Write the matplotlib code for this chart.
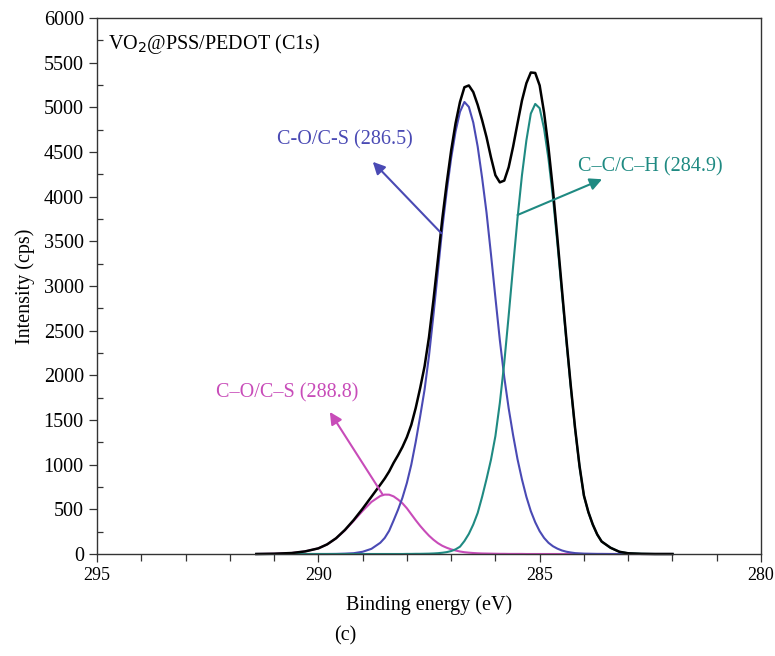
import matplotlib.pyplot as plt

# binding energy grid (eV) shared by all curves
energy = [291.4, 291.0, 290.6, 290.3, 290.0, 289.8, 289.6, 289.4, 289.2, 289.0,
          288.8, 288.6, 288.5, 288.4, 288.3, 288.2, 288.1, 288.0, 287.9, 287.8,
          287.7, 287.6, 287.5, 287.4, 287.3, 287.2, 287.1, 287.0, 286.9, 286.8,
          286.7, 286.6, 286.5, 286.4, 286.3, 286.2, 286.1, 286.0, 285.9, 285.8,
          285.7, 285.6, 285.5, 285.4, 285.3, 285.2, 285.1, 285.0, 284.9, 284.8,
          284.7, 284.6, 284.5, 284.4, 284.3, 284.2, 284.1, 284.0, 283.9, 283.8,
          283.7, 283.6, 283.4, 283.2, 283.0, 282.7, 282.4, 282.0]

# C-O/C-S (288.8) component
pink = [0, 3, 11, 29, 63, 108, 175, 265, 372, 482,
        583, 650, 665, 664, 645, 610, 568, 512, 445, 378,
        315, 258, 205, 160, 122, 92, 70, 52, 39, 28,
        20, 15, 11, 8, 6, 5, 4, 3, 2, 2,
        1, 1, 1, 1, 0, 0, 0, 0, 0, 0,
        0, 0, 0, 0, 0, 0, 0, 0, 0, 0,
        0, 0, 0, 0, 0, 0, 0, 0]

# C-O/C-S (286.5) component
blue = [0, 0, 0, 0, 0, 0, 1, 4, 9, 25,
        58, 126, 180, 260, 375, 495, 630, 795, 1000, 1255,
        1540, 1840, 2220, 2675, 3160, 3645, 4060, 4430, 4730, 4950,
        5060, 5005, 4830, 4560, 4210, 3820, 3355, 2870, 2395, 1980,
        1630, 1330, 1060, 835, 640, 480, 355, 255, 180, 125,
        87, 60, 40, 26, 17, 10, 7, 4, 3, 2,
        1, 1, 0, 0, 0, 0, 0, 0]

# C-C/C-H (284.9) component
teal = [0, 0, 0, 0, 0, 0, 0, 0, 0, 0,
        0, 0, 0, 0, 0, 0, 0, 1, 1, 2,
        2, 3, 4, 6, 9, 14, 21, 33, 52, 82,
        145, 225, 330, 460, 640, 840, 1055, 1320, 1690, 2140,
        2670, 3220, 3760, 4240, 4630, 4930, 5038, 4990, 4760, 4420,
        3990, 3480, 2940, 2400, 1880, 1400, 980, 650, 467, 328,
        218, 139, 70, 25, 8, 2, 0, 0]

# measured envelope
envelope = [0, 3, 11, 29, 63, 108, 176, 269, 381, 507,
            641, 776, 845, 924, 1020, 1105, 1198, 1308, 1446, 1635,
            1857, 2101, 2429, 2841, 3291, 3751, 4151, 4515, 4821, 5060,
            5225, 5245, 5171, 5028, 4856, 4665, 4440, 4240, 4160, 4180,
            4330, 4560, 4821, 5076, 5270, 5390, 5385, 5245, 4940, 4545,
            4077, 3540, 2980, 2426, 1897, 1410, 987, 654, 470, 330,
            219, 140, 70, 25, 8, 2, 0, 0]

c_pink = '#c84cb9'
c_blue = '#4a4ab4'
c_teal = '#1f8a82'

plt.rcParams['font.family'] = ['Liberation Serif', 'DejaVu Serif']
fs = 14.5

fig = plt.figure(figsize=(7.75, 6.56), dpi=100)
ax = fig.add_axes([97/775, 1 - 554/656, 664/775, 536/656])

line_kw = dict(lw=1.5, clip_on=False, solid_joinstyle='round')
ax.plot(energy, pink, color=c_pink, **line_kw)
ax.plot(energy, blue, color=c_blue, **line_kw)
ax.plot(energy, teal, color=c_teal, **line_kw)
ax.plot(energy, envelope, color='black', lw=1.8, clip_on=False, solid_joinstyle='round')

ax.set_xlim(295, 280)
ax.set_ylim(0, 6000)
ax.set_xticks([295, 290, 285, 280])
ax.set_xticks(range(281, 295), minor=True)
ax.set_yticks(range(0, 6001, 500))
ax.set_yticks(range(250, 6000, 500), minor=True)
ax.tick_params(axis='both', which='major', direction='out',
               length=6, width=0.9, color='#333333')
ax.tick_params(axis='y', which='major', labelsize=14.5)
ax.tick_params(axis='x', which='major', labelsize=13)
ax.tick_params(axis='y', which='minor', direction='in', length=4, width=0.9,
               color='#333333')
ax.tick_params(axis='x', which='minor', direction='out', length=5, width=0.9,
               color='#333333')
for s in ax.spines.values():
    s.set_color('#333333')
    s.set_linewidth(1.0)

ax.set_xlabel('Binding energy (eV)', fontsize=fs, labelpad=8)
ax.set_ylabel('Intensity (cps)', fontsize=fs, labelpad=6)

ax.text(0.0165, 0.951, r'VO$_2$@PSS/PEDOT (C1s)', transform=ax.transAxes,
        fontsize=fs, va='center', ha='left')

arrow_kw = dict(arrowstyle='-|>', lw=1.5, mutation_scale=18, shrinkA=0, shrinkB=0)

ax.text(289.41, 4640, 'C-O/C-S (286.5)', color=c_blue, fontsize=fs,
        ha='center', va='center')
ax.annotate('', xy=(288.77, 4390), xytext=(287.22, 3590),
            arrowprops=dict(color=c_blue, **arrow_kw))

ax.text(282.51, 4336, 'C–C/C–H (284.9)', color=c_teal, fontsize=fs,
        ha='center', va='center')
ax.annotate('', xy=(283.59, 4195), xytext=(285.50, 3795),
            arrowprops=dict(color=c_teal, **arrow_kw))

ax.text(290.71, 1800, 'C–O/C–S (288.8)', color=c_pink, fontsize=fs,
        ha='center', va='center')
ax.annotate('', xy=(289.74, 1590), xytext=(288.54, 660),
            arrowprops=dict(color=c_pink, **arrow_kw))

fig.text(345/775, 1 - 636/656, '(c)', fontsize=fs, ha='center', va='center')

fig.savefig('out.png', dpi=100)
